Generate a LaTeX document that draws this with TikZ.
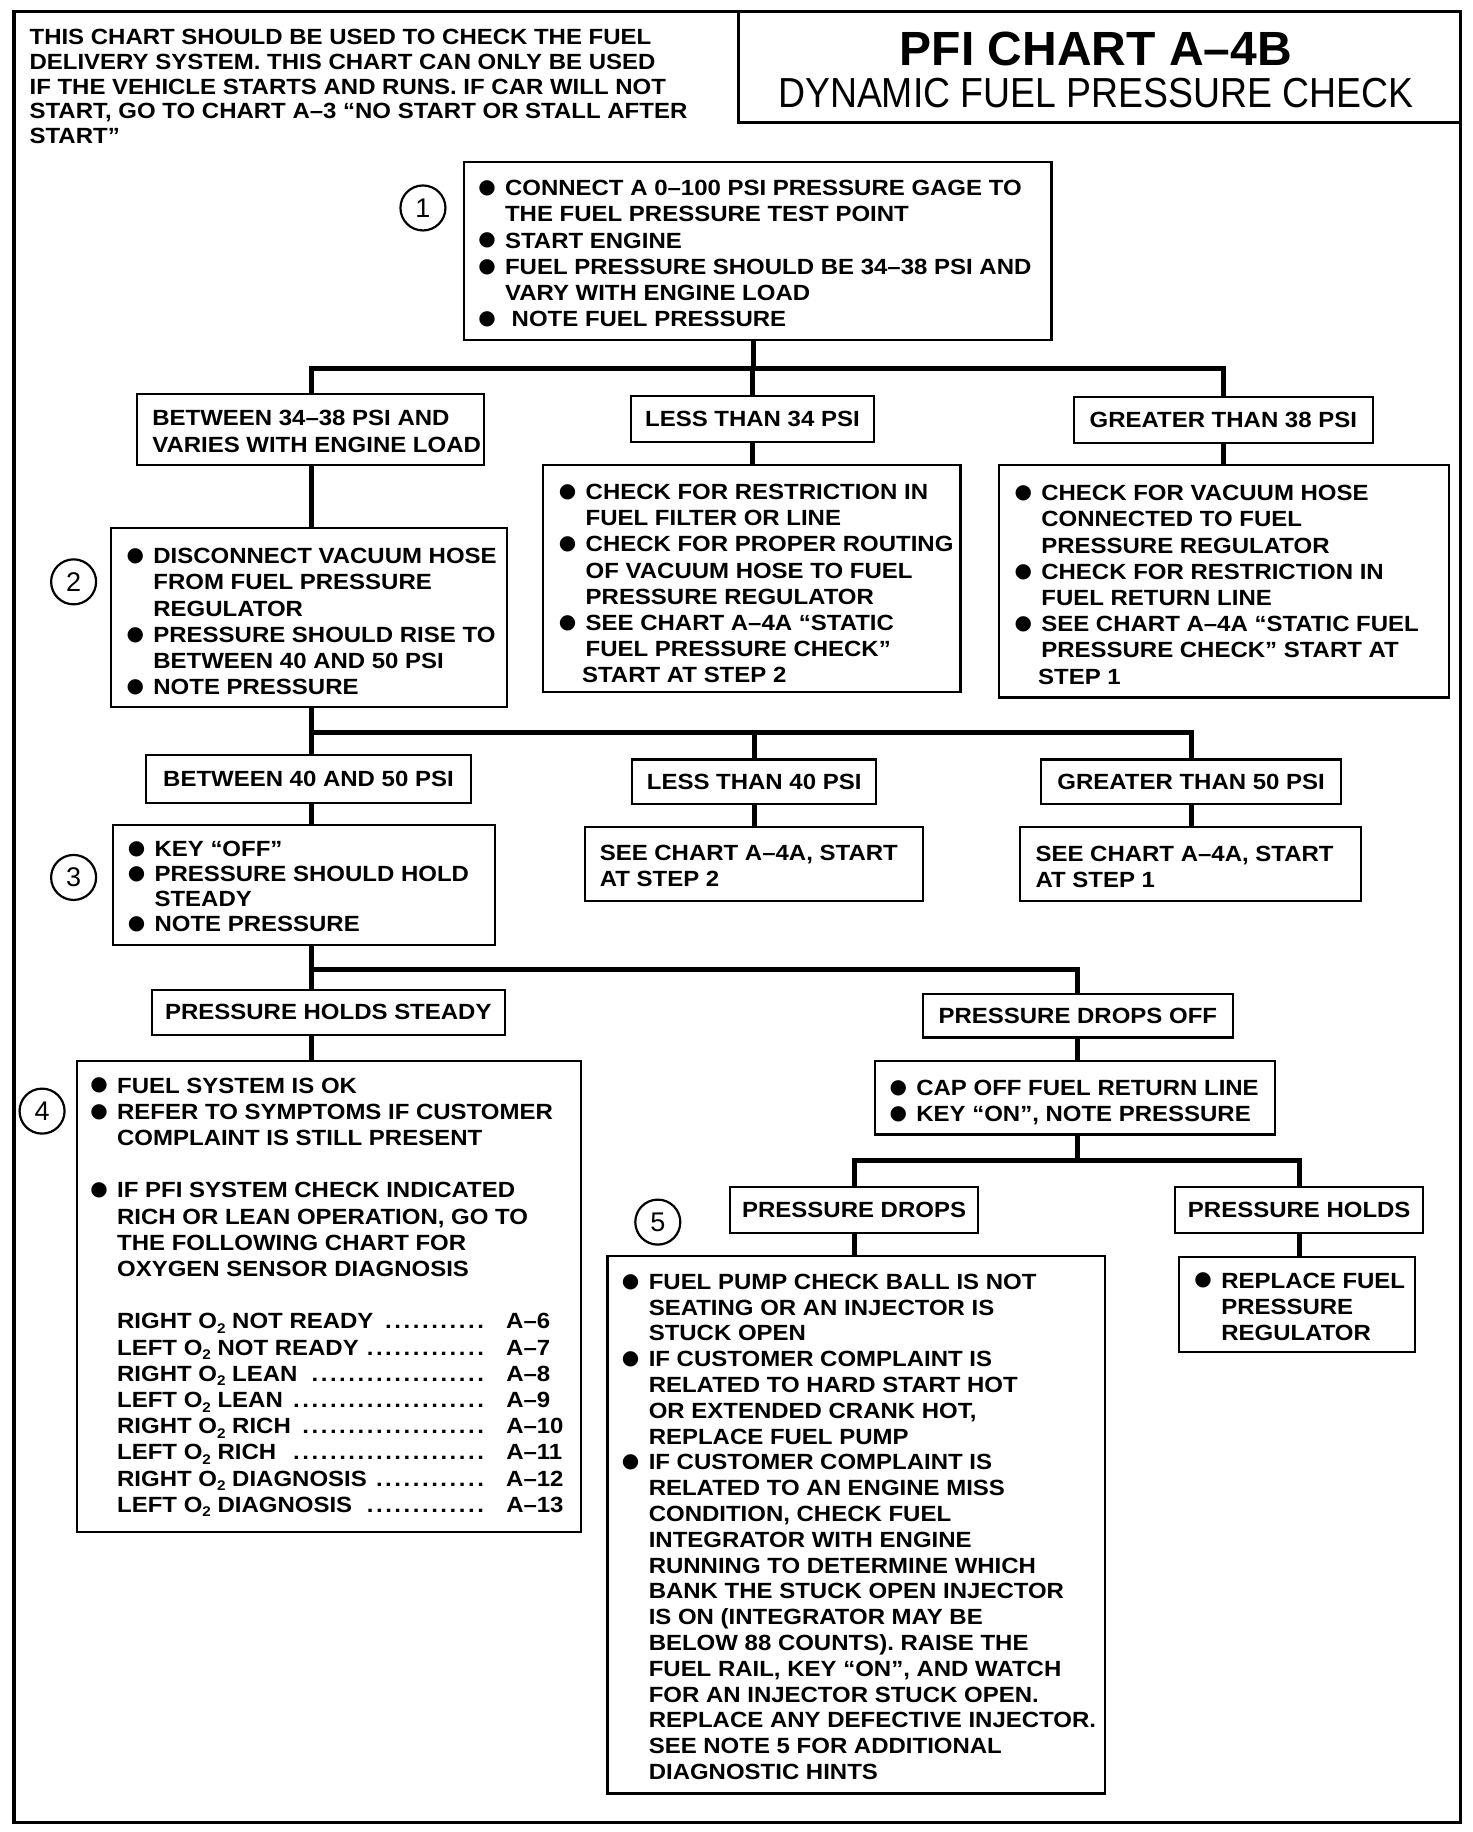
\documentclass[tikz,border=0pt]{standalone}
\usepackage{fontspec}
\usepackage{graphicx}
\setmainfont{Liberation Sans}
\newfontfamily\bodyfont{Liberation Sans}[BoldFeatures={FakeStretch=1.09}]
\newfontfamily\titlefont{Liberation Sans}[UprightFeatures={FakeStretch=0.89}]
\newfontfamily\symf{DejaVu Sans}
\usetikzlibrary{fit}

\newcommand\bulx{\makebox[13.4pt][l]{\raisebox{1.1pt}{\symf\fontsize{10}{10}\selectfont ●}}}
\newcommand\contx{\hspace*{13.4pt}}
\newcommand\osubx{O\raisebox{-0.4ex}{\fontsize{7}{7}\selectfont 2}}
\newcommand\trowx[2]{\hbox to 194.5pt{#1\ \leaders\hbox to 4.6pt{\hss.\hss}\hfill\hspace*{8.5pt}}#2}

\tikzset{
  outerframe/.style={line width=1.7pt},
  bx/.style={draw, line width=1.1pt, inner sep=0pt, rectangle},
  conn/.style={line width=2.5pt, line join=miter},
  txt/.style={anchor=north west, inner sep=0pt, align=left,
    font=\bodyfont\bfseries\fontsize{11}{#1}\selectfont},
  txt/.default=13.1,
  lbl/.style={inner sep=0pt, font=\bodyfont\bfseries\fontsize{11}{13.1}\selectfont},
  circnum/.style={circle, draw, line width=1.1pt, minimum size=22.5pt, inner sep=0pt,
    font=\fontsize{13.5}{13.5}\selectfont}
}

\begin{document}
\begin{tikzpicture}[x=0.58413pt, y=-0.58413pt]
\fill[white] (0,0) rectangle (1260,1568);
\useasboundingbox (0,0) rectangle (1260,1568);
\draw[outerframe] (12,10) rectangle (1250,1560);

% header
\node[bx, line width=1.5pt, fit={(632,10)(1250,105)}] (title) {};
\node[inner sep=0pt, font=\titlefont\bfseries\fontsize{24}{24}\selectfont] (t1) at (938,42) {PFI CHART A–4B};
\node[inner sep=0pt, font=\titlefont\fontsize{21}{21}\selectfont] (t2) at (938,80) {DYNAMIC FUEL PRESSURE CHECK};
\node[txt=12.3] (intro) at (25,25) {THIS CHART SHOULD BE USED TO CHECK THE FUEL\\
DELIVERY SYSTEM. THIS CHART CAN ONLY BE USED\\
IF THE VEHICLE STARTS AND RUNS. IF CAR WILL NOT\\
START, GO TO CHART A–3 “NO START OR STALL AFTER\\
START”};

% step 1
\node[bx, fit={(397,139)(900,291)}] (s1) {};
\node[circnum] (c1) at (362,178) {1};
\node[txt] (s1t) at (409,154) {\bulx CONNECT A 0–100 PSI PRESSURE GAGE TO\\
\contx THE FUEL PRESSURE TEST POINT\\
\bulx START ENGINE\\
\bulx FUEL PRESSURE SHOULD BE 34–38 PSI AND\\
\contx VARY WITH ENGINE LOAD\\
\bulx\ NOTE FUEL PRESSURE};

\coordinate (L) at (267,0);
\coordinate (j1) at (645,315);

% level 1
\node[bx, fit={(117,337)(414,398)}] (b34) {};
\node[txt] (b34t) at (130,351) {BETWEEN 34–38 PSI AND\\VARIES WITH ENGINE LOAD};
\node[bx, fit={(540,339)(748,378)}] (l34) {};
\node[lbl] (l34t) at (l34.center) {LESS THAN 34 PSI};
\node[bx, fit={(919,340)(1175,379)}] (g38) {};
\node[lbl] (g38t) at (g38.center) {GREATER THAN 38 PSI};

\node[bx, fit={(465,398)(822,592)}] (l34a) {};
\node[txt] (l34at) at (478,414) {\bulx CHECK FOR RESTRICTION IN\\
\contx FUEL FILTER OR LINE\\
\bulx CHECK FOR PROPER ROUTING\\
\contx OF VACUUM HOSE TO FUEL\\
\contx PRESSURE REGULATOR\\
\bulx SEE CHART A–4A “STATIC\\
\contx FUEL PRESSURE CHECK”\\
\hspace*{11.6pt}START AT STEP 2};

\node[bx, fit={(855,398)(1240,597)}] (g38a) {};
\node[txt] (g38at) at (868,415) {\bulx CHECK FOR VACUUM HOSE\\
\contx CONNECTED TO FUEL\\
\contx PRESSURE REGULATOR\\
\bulx CHECK FOR RESTRICTION IN\\
\contx FUEL RETURN LINE\\
\bulx SEE CHART A–4A “STATIC FUEL\\
\contx PRESSURE CHECK” START AT\\
\hspace*{11.8pt}STEP 1};

% step 2
\node[bx, fit={(95,452)(434,605)}] (s2) {};
\node[circnum] (c2) at (63,498) {2};
\node[txt] (s2t) at (108,469) {\bulx DISCONNECT VACUUM HOSE\\
\contx FROM FUEL PRESSURE\\
\contx REGULATOR\\
\bulx PRESSURE SHOULD RISE TO\\
\contx BETWEEN 40 AND 50 PSI\\
\bulx NOTE PRESSURE};

\coordinate (j2) at (267,627);

% level 2
\node[bx, fit={(125,646)(403,687)}] (b4050) {};
\node[lbl] (b4050t) at (b4050.center) {BETWEEN 40 AND 50 PSI};
\node[bx, fit={(541,650)(750,688)}] (l40) {};
\node[lbl] (l40t) at (l40.center) {LESS THAN 40 PSI};
\node[bx, fit={(891,650)(1148,688)}] (g50) {};
\node[lbl] (g50t) at (g50.center) {GREATER THAN 50 PSI};
\node[bx, fit={(501,708)(790,771)}] (l40a) {};
\node[txt] (l40at) at (513,723) {SEE CHART A–4A, START\\AT STEP 2};
\node[bx, fit={(873,708)(1165,771)}] (g50a) {};
\node[txt] (g50at) at (886,724) {SEE CHART A–4A, START\\AT STEP 1};

% step 3
\node[bx, fit={(97,706)(424,809)}] (s3) {};
\node[circnum] (c3) at (63,751) {3};
\node[txt=12.5] (s3t) at (109,720) {\bulx KEY “OFF”\\
\bulx PRESSURE SHOULD HOLD\\
\contx STEADY\\
\bulx NOTE PRESSURE};

\coordinate (j3) at (267,830);

% level 3
\node[bx, fit={(130,847)(432,886)}] (phs) {};
\node[lbl] (phst) at (phs.center) {PRESSURE HOLDS STEADY};
\node[bx, fit={(790,851)(1055,888)}] (pdo) {};
\node[lbl] (pdot) at (pdo.center) {PRESSURE DROPS OFF};

% step 4
\node[bx, fit={(66,908)(497,1311)}] (s4) {};
\node[circnum] (c4) at (36,951) {4};
\node[txt] (s4t) at (77,922) {\bulx FUEL SYSTEM IS OK\\
\bulx REFER TO SYMPTOMS IF CUSTOMER\\
\contx COMPLAINT IS STILL PRESENT\\[13.1pt]
\bulx IF PFI SYSTEM CHECK INDICATED\\
\contx RICH OR LEAN OPERATION, GO TO\\
\contx THE FOLLOWING CHART FOR\\
\contx OXYGEN SENSOR DIAGNOSIS\\[13.1pt]
\contx\trowx{RIGHT \osubx\ NOT READY}{A–6}\\
\contx\trowx{LEFT \osubx\ NOT READY}{A–7}\\
\contx\trowx{RIGHT \osubx\ LEAN}{A–8}\\
\contx\trowx{LEFT \osubx\ LEAN}{A–9}\\
\contx\trowx{RIGHT \osubx\ RICH}{A–10}\\
\contx\trowx{LEFT \osubx\ RICH}{A–11}\\
\contx\trowx{RIGHT \osubx\ DIAGNOSIS}{A–12}\\
\contx\trowx{LEFT \osubx\ DIAGNOSIS}{A–13}};

% cap off
\node[bx, fit={(749,908)(1091,971)}] (cap) {};
\node[txt] (capt) at (761,924) {\bulx CAP OFF FUEL RETURN LINE\\
\bulx KEY “ON”, NOTE PRESSURE};

\coordinate (j4) at (922,993);

% level 4
\node[bx, fit={(625,1016)(837,1055)}] (pd) {};
\node[lbl] (pdt) at (pd.center) {PRESSURE DROPS};
\node[bx, fit={(1006,1016)(1218,1055)}] (ph) {};
\node[lbl] (pht) at (ph.center) {PRESSURE HOLDS};
\node[circnum] (c5) at (563,1046) {5};

% step 5
\node[bx, fit={(520,1075)(946,1535)}] (s5) {};
\node[txt=12.9] (s5t) at (532,1090) {\bulx FUEL PUMP CHECK BALL IS NOT\\
\contx SEATING OR AN INJECTOR IS\\
\contx STUCK OPEN\\
\bulx IF CUSTOMER COMPLAINT IS\\
\contx RELATED TO HARD START HOT\\
\contx OR EXTENDED CRANK HOT,\\
\contx REPLACE FUEL PUMP\\
\bulx IF CUSTOMER COMPLAINT IS\\
\contx RELATED TO AN ENGINE MISS\\
\contx CONDITION, CHECK FUEL\\
\contx INTEGRATOR WITH ENGINE\\
\contx RUNNING TO DETERMINE WHICH\\
\contx BANK THE STUCK OPEN INJECTOR\\
\contx IS ON (INTEGRATOR MAY BE\\
\contx BELOW 88 COUNTS). RAISE THE\\
\contx FUEL RAIL, KEY “ON”, AND WATCH\\
\contx FOR AN INJECTOR STUCK OPEN.\\
\contx REPLACE ANY DEFECTIVE INJECTOR.\\
\contx SEE NOTE 5 FOR ADDITIONAL\\
\contx DIAGNOSTIC HINTS};

\node[bx, fit={(1009,1076)(1211,1157)}] (rep) {};
\node[txt] (rept) at (1022,1089) {\bulx REPLACE FUEL\\
\contx PRESSURE\\
\contx REGULATOR};

% connectors
\draw[conn] (j1 |- s1.south) -- (j1);
\draw[conn] (b34.north -| L) -- (j1 -| L) -- (j1 -| g38.north) -- (g38.north);
\draw[conn] (l34.north) -- (l34.north |- j1);
\draw[conn] (l34.south) -- (l34.south |- l34a.north);
\draw[conn] (g38.south) -- (g38.south |- g38a.north);
\draw[conn] (b34.south -| L) -- (s2.north -| L);
\draw[conn] (s2.south -| L) -- (b4050.north -| L);
\draw[conn] (j2) -- (j2 -| g50.north) -- (g50.north);
\draw[conn] (l40.north) -- (l40.north |- j2);
\draw[conn] (l40.south) -- (l40.south |- l40a.north);
\draw[conn] (g50.south) -- (g50.south |- g50a.north);
\draw[conn] (b4050.south -| L) -- (s3.north -| L);
\draw[conn] (s3.south -| L) -- (phs.north -| L);
\draw[conn] (j3) -- (j3 -| pdo.north) -- (pdo.north);
\draw[conn] (phs.south -| L) -- (s4.north -| L);
\draw[conn] (pdo.south) -- (pdo.south |- cap.north);
\draw[conn] (cap.south -| j4) -- (j4);
\draw[conn] (pd.north) -- (pd.north |- j4) -- (ph.north |- j4) -- (ph.north);
\draw[conn] (pd.south) -- (pd.south |- s5.north);
\draw[conn] (ph.south) -- (ph.south |- rep.north);
\end{tikzpicture}
\end{document}
